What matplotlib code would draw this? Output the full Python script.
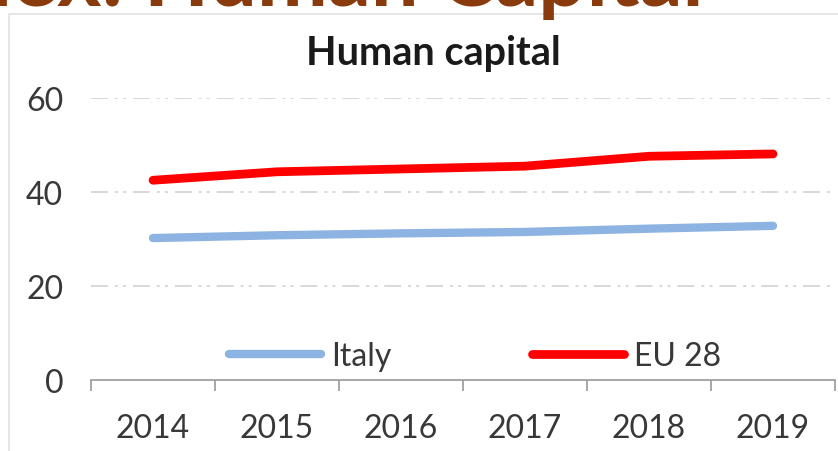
import matplotlib
matplotlib.use("Agg")
import matplotlib.pyplot as plt
from matplotlib.patches import Rectangle

years = ["2014", "2015", "2016", "2017", "2018", "2019"]
italy = [30.2, 30.8, 31.2, 31.5, 32.2, 32.8]
eu28 = [42.5, 44.3, 44.9, 45.5, 47.6, 48.1]
yticks = [0, 20, 40, 60]

heading_prefix = "Index: "
heading_main = "Human Capital"

W, H = 838, 452
fig = plt.figure(figsize=(W / 100, H / 100), dpi=100)
fig.patch.set_facecolor("white")
renderer = fig.canvas.get_renderer()


def text_width(s, **kw):
    t = fig.text(0, 0, s, **kw)
    w = t.get_window_extent(renderer).width
    t.remove()
    return w


# chart frame
fig.patches.append(Rectangle((9 / W, -0.1), 1.2, (H - 15) / H + 0.1,
                             transform=fig.transFigure, fill=False,
                             edgecolor="#E2E2E2", linewidth=1.2))

# slide heading, mostly above the visible area
hkw = dict(family="Lato", fontweight="bold")
base = 60
size = base * 560 / text_width(heading_main, fontsize=base, **hkw)
prefix_w = (text_width(heading_prefix + "H", fontsize=size, **hkw)
            - text_width("H", fontsize=size, **hkw))
fig.text((144 - prefix_w) / W, (H - 6) / H, heading_prefix + heading_main,
         ha="left", va="baseline", fontsize=size, color="#893B0D", **hkw)

ax = fig.add_axes([91 / W, 71 / H, (835 - 91) / W, (381 - 99) / H])
x = list(range(len(years)))

ax.plot(x, italy, color="#8DB3E2", lw=6.0, solid_capstyle="round", label="Italy")
ax.plot(x, eu28, color="#FF0000", lw=6.3, solid_capstyle="round", label="EU 28")

ax.set_xlim(-0.5, len(years) - 0.5)
ax.set_ylim(0, 60)
ax.set_yticks(yticks)
ax.set_yticklabels([str(v) for v in yticks], family="Lato", fontsize=23, color="#383838")
ax.set_xticks(x)
ax.set_xticklabels(years, family="Lato", fontsize=23, color="#383838")
ax.set_xticks([i - 0.5 for i in range(len(years) + 1)], minor=True)
ax.tick_params(axis="x", which="major", length=0, pad=24)
ax.tick_params(axis="x", which="minor", length=8, width=1.3, color="#A0A0A0")
ax.tick_params(axis="y", length=0, pad=20)

for s in ["top", "right", "left"]:
    ax.spines[s].set_visible(False)
ax.spines["bottom"].set_color("#A0A0A0")
ax.spines["bottom"].set_linewidth(1.3)

for v in yticks[1:]:
    ax.axhline(v, color="#D6D6D6", lw=1.3, dashes=(9.4, 3.8, 1.7, 2.8, 1.7, 3.8), zorder=0)

# title centred on the chart frame rather than the plot area
ax.set_title("Human capital", family="Lato", fontweight="bold", fontsize=28.5,
             color="#1A1A1A", pad=24.5, x=(433 - 91) / (835 - 91))

leg = ax.legend(loc="center", bbox_to_anchor=(0.516, 0.085), ncol=2, frameon=False,
                prop={"family": "Lato", "size": 23}, handlelength=2.9,
                handletextpad=0.3, columnspacing=4.4, borderpad=0)
for t in leg.get_texts():
    t.set_color("#383838")

fig.savefig("out.png", dpi=100)
